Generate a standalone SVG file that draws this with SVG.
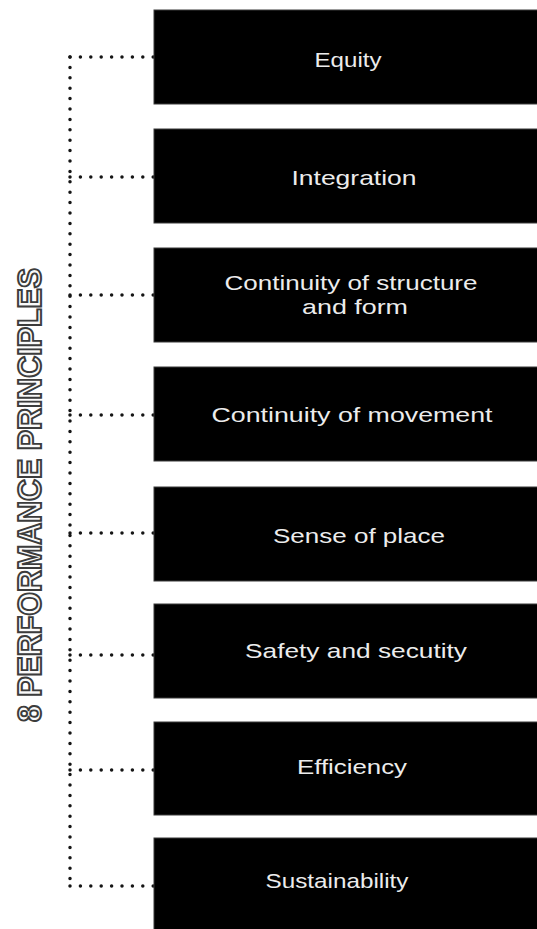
<svg xmlns="http://www.w3.org/2000/svg" width="537" height="929" viewBox="0 0 537 929">
<style>
.box{fill:#000;stroke:#3a3a3a;stroke-width:1}
.lbl{font-family:"Liberation Sans","DejaVu Sans",sans-serif;font-size:21px;fill:#ececec;text-anchor:middle}
.dot{fill:none;stroke:#151515;stroke-width:3.5;stroke-linecap:round;stroke-dasharray:0 10.4}
.title{font-family:"Liberation Sans","DejaVu Sans",sans-serif;font-weight:bold;font-size:33px;fill:#fafafa;stroke:#3c3c3c;stroke-width:2;text-anchor:middle}
</style>
<rect width="537" height="929" fill="#fff"/>
<g id="connectors">
  <path class="dot" d="M70,57 V886"/>
  <path class="dot" d="M70,57 H154"/>
  <path class="dot" d="M70,177 H154"/>
  <path class="dot" d="M70,295 H154"/>
  <path class="dot" d="M70,415 H154"/>
  <path class="dot" d="M70,533 H154"/>
  <path class="dot" d="M70,655 H154"/>
  <path class="dot" d="M70,770 H154"/>
  <path class="dot" d="M70,886 H154"/>
</g>
<g id="title">
  <text class="title" transform="translate(41,495) rotate(-90)" textLength="454" lengthAdjust="spacingAndGlyphs">8 PERFORMANCE PRINCIPLES</text>
</g>
<g id="equity">
  <rect class="box" x="154" y="10" width="390" height="94"/>
  <text class="lbl" x="348" y="67" textLength="67" lengthAdjust="spacingAndGlyphs">Equity</text>
</g>
<g id="integration">
  <rect class="box" x="154" y="129" width="390" height="94"/>
  <text class="lbl" x="354" y="185" textLength="125" lengthAdjust="spacingAndGlyphs">Integration</text>
</g>
<g id="continuity-structure">
  <rect class="box" x="154" y="248" width="390" height="94"/>
  <text class="lbl" x="351" y="290" textLength="253" lengthAdjust="spacingAndGlyphs">Continuity of structure</text>
  <text class="lbl" x="355" y="314" textLength="106" lengthAdjust="spacingAndGlyphs">and form</text>
</g>
<g id="continuity-movement">
  <rect class="box" x="154" y="367" width="390" height="94"/>
  <text class="lbl" x="352" y="422" textLength="281" lengthAdjust="spacingAndGlyphs">Continuity of movement</text>
</g>
<g id="sense-of-place">
  <rect class="box" x="154" y="487" width="390" height="94"/>
  <text class="lbl" x="359" y="543" textLength="172" lengthAdjust="spacingAndGlyphs">Sense of place</text>
</g>
<g id="safety">
  <rect class="box" x="154" y="604" width="390" height="94"/>
  <text class="lbl" x="356" y="658" textLength="222" lengthAdjust="spacingAndGlyphs">Safety and secutity</text>
</g>
<g id="efficiency">
  <rect class="box" x="154" y="722" width="390" height="93"/>
  <text class="lbl" x="352" y="774" textLength="110" lengthAdjust="spacingAndGlyphs">Efficiency</text>
</g>
<g id="sustainability">
  <rect class="box" x="154" y="838" width="390" height="100"/>
  <text class="lbl" x="337" y="888" textLength="143" lengthAdjust="spacingAndGlyphs">Sustainability</text>
</g>
</svg>
